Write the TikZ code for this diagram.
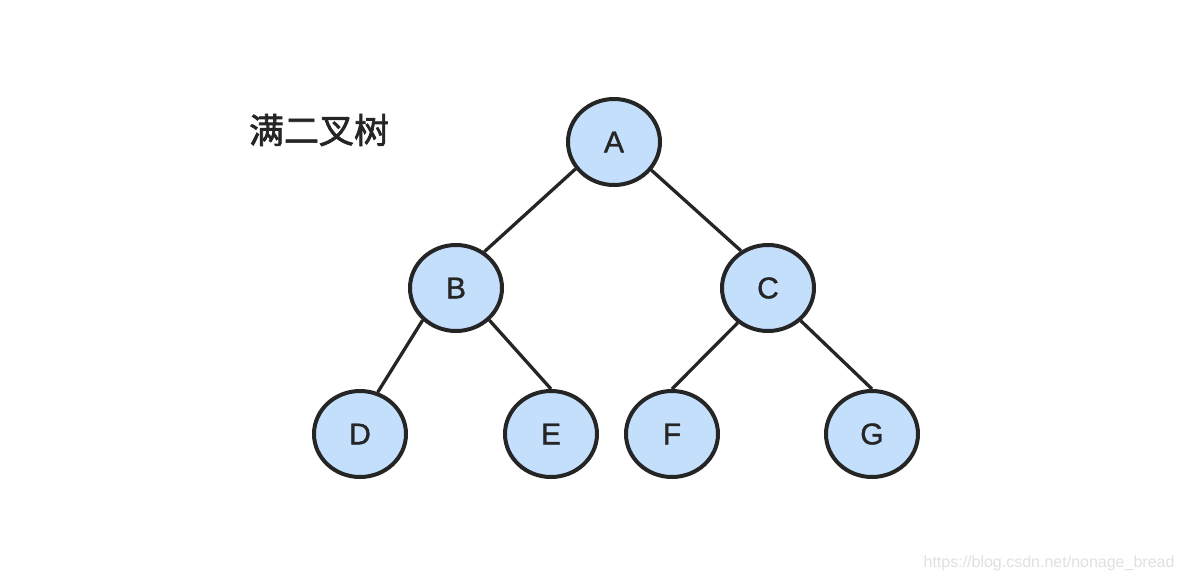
\documentclass[tikz,border=0pt]{standalone}
\usepackage{fontspec}
\setmainfont{Liberation Sans}
\newfontfamily\cjk[FakeBold=2]{Noto Sans CJK SC}
\newfontfamily\lbl[FakeBold=1.2]{Liberation Sans}
\usetikzlibrary{shapes.geometric}
\definecolor{nodeblue}{HTML}{C3DFFC}
\definecolor{ink}{HTML}{252525}
\tikzset{
    %lines between the nodes
    link/.style={draw=ink, line width=3.3pt},
}
\begin{document}
\begin{tikzpicture}[x=1pt, y=-1pt,
    nd/.style = {ellipse, draw=ink, fill=nodeblue, line width=4pt,
                 minimum width=92pt, minimum height=86pt, inner sep=0pt,
                 text=ink, font=\lbl\fontsize{30}{30}\selectfont},
  ]
  \useasboundingbox (0,0) rectangle (1186,582);
  \node[font=\cjk\fontsize{35}{35}\selectfont, text=ink] (title) at (319,130) {满二叉树};
  \node[nd] (A) at (614,142) {A};
  \node[nd] (B) at (456,288) {B};
  \node[nd] (C) at (768,288) {C};
  \node[nd] (D) at (360,434) {D};
  \node[nd] (E) at (551,434) {E};
  \node[nd] (F) at (672,434) {F};
  \node[nd] (G) at (872,434) {G};
  \draw[link] (A.215) -- (B.52);
  \draw[link] (A.323) -- (C.126);
  \draw[link] (B.224) -- (D.67);
  \draw[link] (B.316) -- (E.north);
  \draw[link] (C.229) -- (F.north);
  \draw[link] (C.315) -- (G.north);
  % csdn mark
  \node[text=black!12, font=\fontsize{16}{16}\selectfont, anchor=east] (mark) at (1178,563) {https://blog.csdn.net/nonage\_bread};
\end{tikzpicture}
\end{document}
